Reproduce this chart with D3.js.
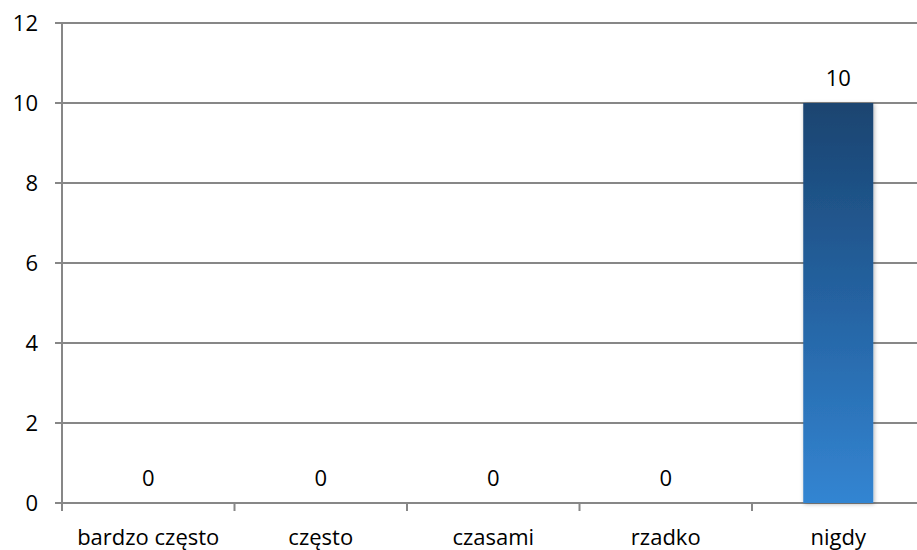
<!DOCTYPE html>
<html><head><meta charset="utf-8">
<script src="https://cdn.jsdelivr.net/npm/d3@7/dist/d3.min.js"></script>
<style>body{margin:0;background:#fff}svg text{font-family:"Open Sans","Noto Sans",sans-serif;fill:#000}</style>
</head><body><svg id="c" width="917" height="550"></svg>
<script>
const categories = ["bardzo często","często","czasami","rzadko","nigdy"];
const values = [0,0,0,0,10];
const yTicks = [0,2,4,6,8,10,12];

(function(){
const svg = d3.select("#c");
const pL = 62, pR = 924.5, pT = 23, pB = 503;
const fs = 22;
const x = d3.scaleBand().domain(categories).range([pL, pR]).paddingInner(0).paddingOuter(0);
const y = d3.scaleLinear().domain([0,12]).range([pB, pT]);
const grid = "#878787";

const defs = svg.append("defs");
const g = defs.append("linearGradient").attr("id","bg").attr("x1",0).attr("y1",0).attr("x2",0).attr("y2",1);
g.append("stop").attr("offset","0%").attr("stop-color","#1a4470");
g.append("stop").attr("offset","50%").attr("stop-color","#2563a2");
g.append("stop").attr("offset","100%").attr("stop-color","#3385d2");
const f = defs.append("filter").attr("id","sh").attr("x","-20%").attr("y","-5%").attr("width","140%").attr("height","110%");
f.append("feDropShadow").attr("dx",1).attr("dy",1).attr("stdDeviation",2).attr("flood-color","#000").attr("flood-opacity",0.3);

svg.append("g").selectAll("line").data(yTicks).join("line")
  .attr("x1", pL-7).attr("x2", 917).attr("y1", d=>y(d)).attr("y2", d=>y(d))
  .attr("stroke", grid).attr("stroke-width", 2);

svg.append("g").selectAll("text").data(yTicks).join("text")
  .attr("x", 38).attr("y", d=>y(d)).attr("dy","0.35em").attr("text-anchor","end")
  .attr("font-size", fs).text(d=>d);

svg.append("line").attr("x1",pL).attr("x2",pL).attr("y1",pT).attr("y2",pB+8)
  .attr("stroke",grid).attr("stroke-width",2);

const xt = categories.map(c=>x(c)).concat([pR]);
svg.append("g").selectAll("line").data(xt.slice(1)).join("line")
  .attr("x1",d=>d).attr("x2",d=>d).attr("y1",pB).attr("y2",pB+8)
  .attr("stroke",grid).attr("stroke-width",2);

const bw = 70;
svg.append("g").selectAll("rect").data(values.map((v,i)=>({c:categories[i],v})).filter(d=>d.v>0)).join("rect")
  .attr("x", d=>x(d.c)+x.bandwidth()/2-bw/2).attr("width", bw)
  .attr("y", d=>y(d.v)).attr("height", d=>y(0)-y(d.v))
  .attr("fill","url(#bg)").attr("filter","url(#sh)");

svg.append("g").selectAll("text").data(values.map((v,i)=>({c:categories[i],v}))).join("text")
  .attr("x", d=>x(d.c)+x.bandwidth()/2).attr("y", d=>y(d.v)-25).attr("dy","0.35em")
  .attr("text-anchor","middle").attr("font-size",fs).text(d=>d.v);

svg.append("g").selectAll("text").data(categories).join("text")
  .attr("x", d=>x(d)+x.bandwidth()/2).attr("y", 537).attr("dy","0.35em")
  .attr("text-anchor","middle").attr("font-size",fs).text(d=>d);
})();
</script></body></html>
